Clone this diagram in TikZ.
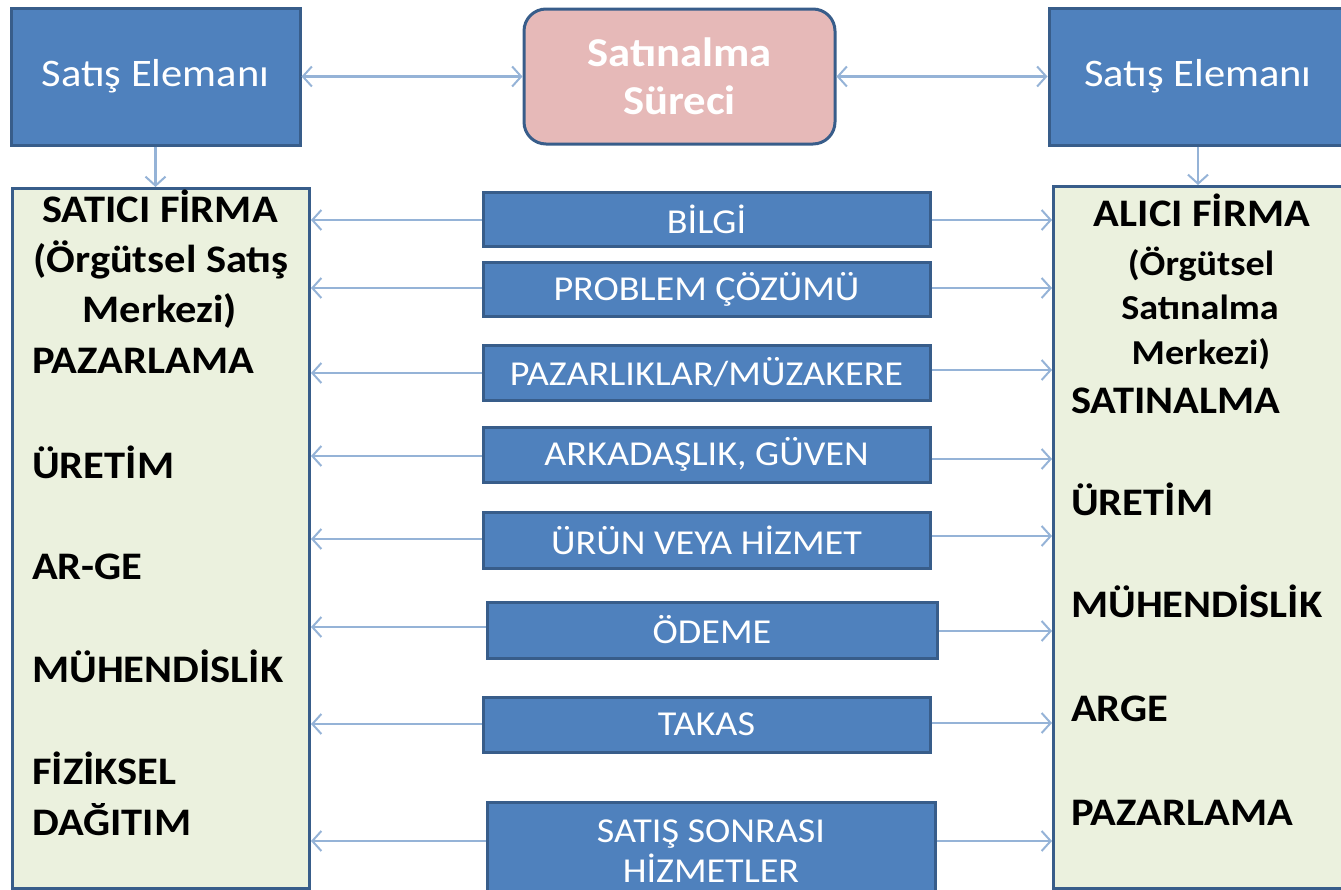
\documentclass[tikz,border=0pt]{standalone}
\usepackage{fontspec}
\setmainfont{Carlito}[FakeStretch=1.09]
\usetikzlibrary{arrows.meta}
\definecolor{boxblue}{HTML}{4F81BD}
\definecolor{edgeblue}{HTML}{385D8A}
\definecolor{pinkfill}{HTML}{E6B9B8}
\definecolor{panelfill}{HTML}{EBF1DE}
\definecolor{linkblue}{HTML}{95B3D7}
\tikzset{
  bluebox/.style={draw=edgeblue, fill=boxblue, line width=3pt, text=white,
    inner sep=0pt, align=center},
  topfont/.style={font=\fontsize{39}{48}\selectfont},
  midfont/.style={font=\fontsize{35}{40}\selectfont},
  panel/.style={draw=edgeblue, fill=panelfill, line width=3pt, inner sep=0pt},
  ptext/.style={font=\bfseries\fontsize{39}{48}\selectfont, inner sep=0pt, anchor=base west},
  ctext/.style={font=\bfseries\fontsize{39}{48}\selectfont, inner sep=0pt, anchor=base},
  rtext/.style={font=\bfseries\fontsize{35}{42}\selectfont, inner sep=0pt, anchor=base},
  link/.style={draw=linkblue, line width=2.5pt,
    arrows={-Straight Barb[length=9pt,width=20pt,line width=2pt]}},
  dlink/.style={link, arrows={Straight Barb[length=9pt,width=20pt,line width=2pt]-Straight Barb[length=9pt,width=20pt,line width=2pt]}}
}
\begin{document}
\begin{tikzpicture}[x=1pt,y=-1pt]
\useasboundingbox (0,0) rectangle (1341,889);

% top row
\node[bluebox, topfont, minimum width=289pt, minimum height=137pt] (sl) at (155.5,76.5) {Satış Elemanı};
\node[bluebox, fill=pinkfill, rounded corners=22pt, text=white, font=\bfseries\fontsize{41}{48}\selectfont,
      minimum width=311pt, minimum height=135pt] (proc) at (679.5,76.5) {Satınalma\\Süreci};
\node[bluebox, topfont, minimum width=298pt, minimum height=137pt] (sr) at (1198,76.5) {Satış Elemanı};

% side panels
\node[panel, minimum width=297pt, minimum height=700pt, anchor=north west] (lp) at (11,187) {};
\node[panel, minimum width=300pt, minimum height=702pt, anchor=north west] (rp) at (1052,185) {};

% left panel text
\node[ctext] (l1) at (160,222) {SATICI FİRMA};
\node[ctext] (l2) at (161,272) {(Örgütsel Satış};
\node[ctext] (l3) at (160,322) {Merkezi)};
\node[ptext] (l4) at (32,373) {PAZARLAMA};
\node[ptext] (l5) at (32,478) {ÜRETİM};
\node[ptext] (l6) at (32,579) {AR-GE};
\node[ptext] (l7) at (32,682) {MÜHENDİSLİK};
\node[ptext] (l8) at (32,784) {FİZİKSEL};
\node[ptext] (l9) at (32,835) {DAĞITIM};

% right panel text
\node[ctext] (r1) at (1202,226) {ALICI FİRMA};
\node[rtext] (r2) at (1201,275) {(Örgütsel};
\node[rtext] (r3) at (1200,319) {Satınalma};
\node[rtext] (r4) at (1201,364) {Merkezi)};
\node[ptext] (r5) at (1071,413) {SATINALMA};
\node[ptext] (r6) at (1071,515) {ÜRETİM};
\node[ptext] (r7) at (1071,617) {MÜHENDİSLİK};
\node[ptext] (r8) at (1071,721) {ARGE};
\node[ptext] (r9) at (1071,825) {PAZARLAMA};

% exchanged items
\node[bluebox, midfont, minimum width=447pt, minimum height=54pt] (m1) at (706.5,219) {BİLGİ};
\node[bluebox, midfont, minimum width=447pt, minimum height=54pt] (m2) at (706.5,289) {PROBLEM ÇÖZÜMÜ};
\node[bluebox, midfont, minimum width=447pt, minimum height=55pt] (m3) at (706.5,372.5) {PAZARLIKLAR/MÜZAKERE};
\node[bluebox, midfont, minimum width=447pt, minimum height=55pt] (m4) at (706.5,454.5) {ARKADAŞLIK, GÜVEN};
\node[bluebox, midfont, minimum width=447pt, minimum height=56pt] (m5) at (706.5,540) {ÜRÜN VEYA HİZMET};
\node[bluebox, midfont, minimum width=450pt, minimum height=56pt] (m6) at (712,630) {ÖDEME};
\node[bluebox, midfont, minimum width=447pt, minimum height=55pt] (m7) at (706.5,724.5) {TAKAS};
\node[bluebox, midfont, minimum width=448pt, minimum height=98pt, anchor=north] (m8) at (711,801) {SATIŞ SONRASI\\HİZMETLER};

% connectors
\draw[dlink] (sl.east) -- (proc.west);
\draw[dlink] (proc.east) -- (sr.west);
\draw[link] (sl.south) -- (sl.south |- lp.north);
\draw[link] (sr.south) -- (sr.south |- rp.north);

\foreach \m/\yl/\yr in {m1/220/220, m2/288/288, m3/373/370, m4/456/459, m5/539/536, m6/627/631, m7/724/723, m8/841/841} {
  \draw[link] (\m.west |- 0,\yl) -- (lp.east |- 0,\yl);
  \draw[link] (\m.east |- 0,\yr) -- (rp.west |- 0,\yr);
}
\end{tikzpicture}
\end{document}
